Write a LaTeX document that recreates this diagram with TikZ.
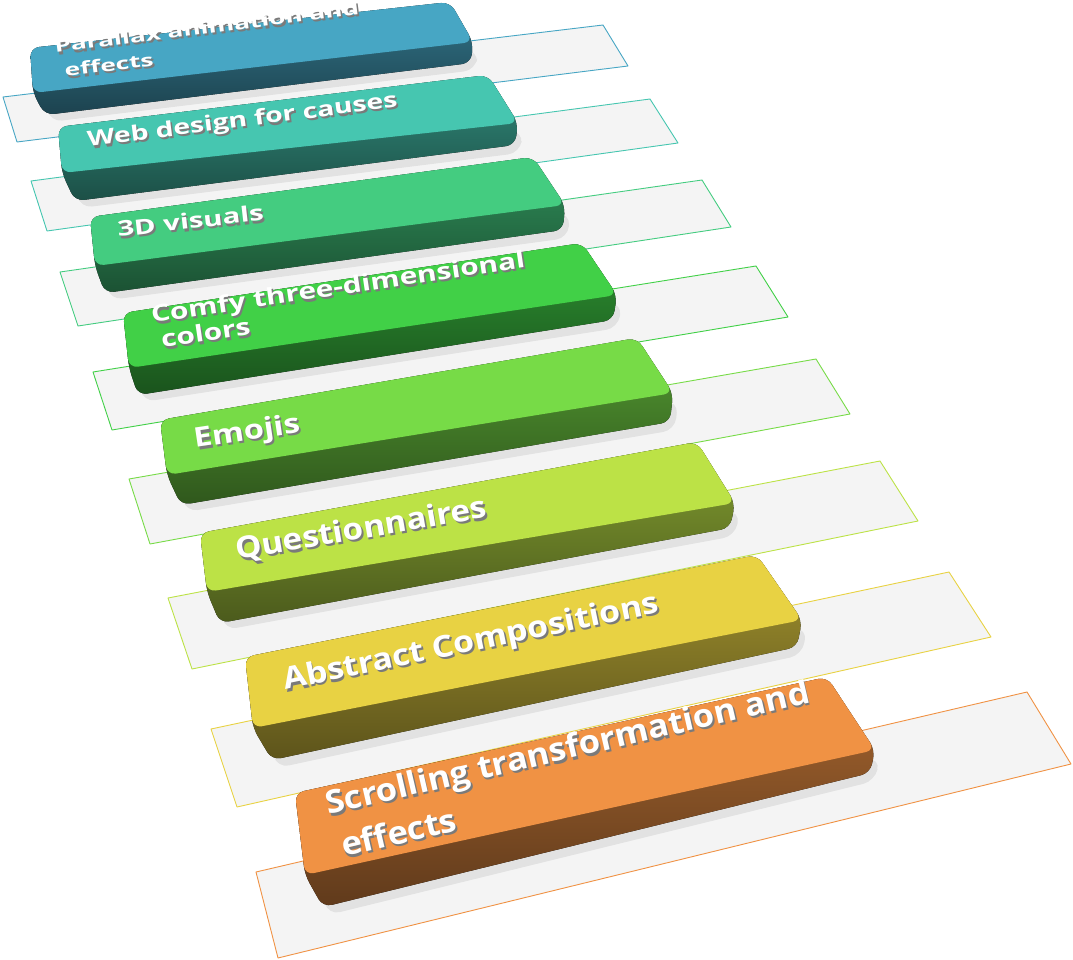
\documentclass[tikz,border=0pt]{standalone}
\usepackage{fontspec}
\setmainfont{Open Sans}
\usetikzlibrary{calc}

\definecolor{cA}{HTML}{47A6C4}
\definecolor{cB}{HTML}{46C6B0}
\definecolor{cC}{HTML}{44CC80}
\definecolor{cD}{HTML}{41D047}
\definecolor{cE}{HTML}{77DB47}
\definecolor{cF}{HTML}{BCE246}
\definecolor{cG}{HTML}{E8D243}
\definecolor{cH}{HTML}{F09244}
\definecolor{paper}{HTML}{F4F4F4}

\newcommand{\capsize}[2]{\fontsize{#1}{#2}\selectfont\bfseries}
% caption with its grey shadow: name, position (last line), angle, size, leading, stretch, text
\newcommand{\slabtext}[7]{%
  \node[capshadow, rotate=#3, xscale=#6, font=\capsize{#4}{#5}] (#1s) at ($#2+(1.8,2.2)$) {#7};
  \node[caption, rotate=#3, xscale=#6, font=\capsize{#4}{#5}] (#1) at #2 {#7};}

\begin{document}
\begin{tikzpicture}[x=1pt, y=-1pt,
    para/.style={draw=#1, fill=paper, line width=0.9pt, line join=round},
    slabshadow/.style={fill=black, opacity=0.07, rounded corners=12pt},
    slabbody/.style={top color=#1!70!black, bottom color=#1!40!black, rounded corners=9pt},
    slabtop/.style={fill=#1, rounded corners=9pt},
    caption/.style={text=white, anchor=base west, align=left, inner sep=0pt},
    capshadow/.style={text=black!52, anchor=base west, align=left, inner sep=0pt}]
  \useasboundingbox (0,0) rectangle (1073,960);

  % flat plates
  \draw[para=cA] (3,97)   -- (603,25)  -- (628,66)  -- (17,142)  -- cycle;
  \draw[para=cB] (31,181) -- (650,99)  -- (678,143) -- (47,231)  -- cycle;
  \draw[para=cC] (60,272) -- (702,180) -- (731,227) -- (78,326)  -- cycle;
  \draw[para=cD] (93,372) -- (756,266) -- (788,317) -- (112,430) -- cycle;
  \draw[para=cE] (129,479) -- (816,359) -- (850,414) -- (150,544) -- cycle;
  \draw[para=cF] (168,598) -- (880,461) -- (918,521) -- (192,669) -- cycle;
  \draw[para=cG] (211,729) -- (949,572) -- (991,637) -- (237,807) -- cycle;
  \draw[para=cH] (256,872) -- (1027,692) -- (1071,764) -- (278,958) -- cycle;

  % slabs
  \fill[slabshadow]  (36,60) -- (478,50) -- (476,70) -- (50,122) -- cycle;
  \fill[slabbody=cA] (30,48) -- (450,2) -- (473,42) -- (471,63) -- (45,115) -- (33,93) -- cycle;
  \fill[slabtop=cA]  (30,48) -- (450,2) -- (473,42) -- (33,93) -- cycle;
  \fill[slabshadow]  (64,140) -- (523,131) -- (520,153) -- (80,208) -- cycle;
  \fill[slabbody=cB] (58,127) -- (488,75) -- (518,123) -- (515,145) -- (75,201) -- (62,173) -- cycle;
  \fill[slabtop=cB]  (58,127) -- (488,75) -- (518,123) -- (62,173) -- cycle;
  \fill[slabshadow]  (96,232) -- (570,213) -- (568,238) -- (110,300) -- cycle;
  \fill[slabbody=cC] (90,217) -- (533,157) -- (565,205) -- (563,230) -- (105,293) -- (95,266) -- cycle;
  \fill[slabtop=cC]  (90,217) -- (533,157) -- (565,205) -- (95,266) -- cycle;
  \fill[slabshadow]  (129,330) -- (622,303) -- (618,328) -- (143,402) -- cycle;
  \fill[slabbody=cD] (123,313) -- (582,243) -- (617,295) -- (613,320) -- (138,395) -- (129,368) -- cycle;
  \fill[slabtop=cD]  (123,313) -- (582,243) -- (617,295) -- (129,368) -- cycle;
  \fill[slabshadow]  (166,437) -- (678,401) -- (675,430) -- (186,512) -- cycle;
  \fill[slabbody=cE] (160,420) -- (637,338) -- (673,393) -- (670,422) -- (181,505) -- (167,475) -- cycle;
  \fill[slabtop=cE]  (160,420) -- (637,338) -- (673,393) -- (167,475) -- cycle;
  \fill[slabshadow]  (206,550) -- (740,511) -- (735,536) -- (225,630) -- cycle;
  \fill[slabbody=cF] (200,533) -- (697,442) -- (735,503) -- (730,528) -- (220,623) -- (207,592) -- cycle;
  \fill[slabtop=cF]  (200,533) -- (697,442) -- (735,503) -- (207,592) -- cycle;
  \fill[slabshadow]  (251,675) -- (807,628) -- (802,655) -- (277,768) -- cycle;
  \fill[slabbody=cG] (245,657) -- (757,555) -- (802,620) -- (797,647) -- (272,760) -- (253,728) -- cycle;
  \fill[slabtop=cG]  (245,657) -- (757,555) -- (802,620) -- (253,728) -- cycle;
  \fill[slabshadow]  (301,812) -- (880,758) -- (875,781) -- (328,915) -- cycle;
  \fill[slabbody=cH] (295,793) -- (827,677) -- (875,750) -- (870,773) -- (323,907) -- (305,875) -- cycle;
  \fill[slabtop=cH]  (295,793) -- (827,677) -- (875,750) -- (305,875) -- cycle;

  % captions
  \slabtext{t1}{(58.1,77.8)}{7.2}{17}{25}{1.55}{Parallax animation and\\\hspace*{4.5pt}effects}
  \slabtext{t2}{(88,147)}{7.4}{21}{26}{1.35}{Web design for causes}
  \slabtext{t3}{(118,237)}{6.5}{21}{26}{1.4}{3D visuals}
  \slabtext{t4}{(155.9,348.9)}{8.5}{23}{26.2}{1.3}{Comfy three-dimensional\\\hspace*{4.8pt}colors}
  \slabtext{t5}{(195,448)}{8.5}{27}{32}{1.21}{Emojis}
  \slabtext{t6}{(237,560)}{9.7}{30}{36}{1.11}{Questionnaires}
  \slabtext{t7}{(285,690)}{11.7}{30}{36}{1.13}{Abstract Compositions}
  \slabtext{t8}{(338.1,858.3)}{13.1}{32}{44.5}{1.08}{Scrolling transformation and\\\hspace*{5.5pt}effects}
\end{tikzpicture}
\end{document}
